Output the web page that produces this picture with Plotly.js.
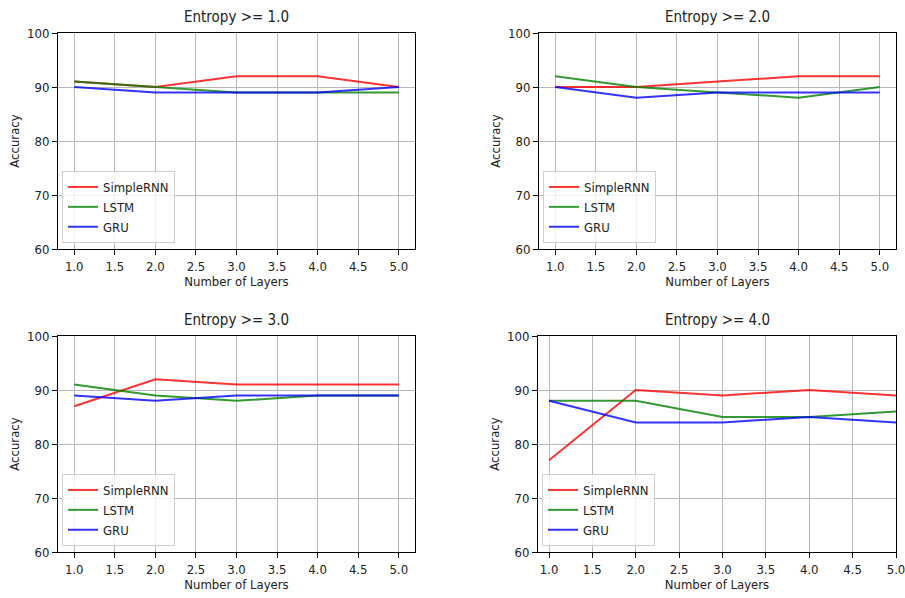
<!DOCTYPE html>
<html>
<head>
<meta charset="utf-8">
<script src="https://cdn.plot.ly/plotly-3.0.1.min.js"></script>
<style>html,body{margin:0;padding:0;background:#fff;}#chart{width:905px;height:598px;}</style>
</head>
<body>
<div id="chart"></div>
<script>
// ---- data ----
const layers = [1, 2, 3, 4, 5];
const seriesNames = ["SimpleRNN", "LSTM", "GRU"];
const panelTitles = ["Entropy >= 1.0", "Entropy >= 2.0", "Entropy >= 3.0", "Entropy >= 4.0"];
const xTickVals = [1.0, 1.5, 2.0, 2.5, 3.0, 3.5, 4.0, 4.5, 5.0];
const yTickVals = [60, 70, 80, 90, 100];

const simpleRNN1 = [91, 90, 92, 92, 90];
const lstm1      = [91, 90, 89, 89, 89];
const gru1       = [90, 89, 89, 89, 90];

const simpleRNN2 = [90, 90, 91, 92, 92];
const lstm2      = [92, 90, 89, 88, 90];
const gru2       = [90, 88, 89, 89, 89];

const simpleRNN3 = [87, 92, 91, 91, 91];
const lstm3      = [91, 89, 88, 89, 89];
const gru3       = [89, 88, 89, 89, 89];

const simpleRNN4 = [77, 90, 89, 90, 89];
const lstm4      = [88, 88, 85, 85, 86];
const gru4       = [88, 84, 84, 85, 84];

const panels = [
  [simpleRNN1, lstm1, gru1],
  [simpleRNN2, lstm2, gru2],
  [simpleRNN3, lstm3, gru3],
  [simpleRNN4, lstm4, gru4]
];

// ---- styling ----
const FONT = "'DejaVu Sans Condensed', 'DejaVu Sans', sans-serif";
const colors = ["rgba(255,0,0,0.8)", "rgba(0,128,0,0.8)", "rgba(0,0,255,0.8)"];
const W = 905, H = 598;
// pixel boxes [left, right, top, bottom]
const boxes = [
  [58, 415, 33, 249],
  [539, 896, 33, 249],
  [58, 415, 336, 552],
  [538, 896, 336, 552]
];
const xRanges = [[0.8, 5.2], [0.8, 5.2], [0.8, 5.2], [0.873, 5.0]];

const traces = [];
const layout = {
  width: W, height: H,
  margin: {l: 0, r: 0, t: 0, b: 0},
  paper_bgcolor: "#fff", plot_bgcolor: "#fff",
  font: {family: FONT, size: 13, color: "#222"},
  showlegend: true,
  annotations: []
};

panels.forEach((p, i) => {
  const n = i === 0 ? "" : String(i + 1);
  const [l, r, t, b] = boxes[i];
  p.forEach((vals, k) => {
    traces.push({
      x: layers, y: vals, type: "scatter", mode: "lines",
      name: seriesNames[k],
      line: {color: colors[k], width: 2},
      xaxis: "x" + n, yaxis: "y" + n,
      legend: "legend" + n,
      hoverinfo: "x+y+name",
      cliponaxis: false
    });
  });
  const axCommon = {
    showline: true, mirror: true, linecolor: "#000", linewidth: 1,
    ticks: "outside", ticklen: 5, tickcolor: "#000", tickwidth: 1,
    showgrid: true, gridcolor: "#b8b8b8", gridwidth: 1, zeroline: false,
    ticklabeloverflow: "allow",
    tickfont: {family: FONT, size: 13, color: "#222"}
  };
  layout["xaxis" + n] = Object.assign({}, axCommon, {
    domain: [l / W, r / W], anchor: "y" + n,
    range: xRanges[i], tickvals: xTickVals, tickformat: ".1f",
    title: {text: "Number of Layers", font: {family: FONT, size: 13, color: "#222"}, standoff: 4}
  });
  layout["yaxis" + n] = Object.assign({}, axCommon, {
    domain: [1 - b / H, 1 - t / H], anchor: "x" + n,
    range: [60, 100], tickvals: yTickVals,
    title: {text: "Accuracy", font: {family: FONT, size: 13, color: "#222"}, standoff: 4}
  });
  layout["legend" + n] = {
    x: (l + 4) / W, y: 1 - (b - 6) / H, xanchor: "left", yanchor: "bottom",
    xref: "paper", yref: "paper",
    bgcolor: "rgba(255,255,255,0.8)", bordercolor: "#d0d0d0", borderwidth: 1,
    font: {family: FONT, size: 13, color: "#222"},
    tracegroupgap: 0
  };
  layout.annotations.push({
    text: panelTitles[i], x: (l + r) / 2 / W, y: 1 - (t - 5) / H,
    xref: "paper", yref: "paper", xanchor: "center", yanchor: "bottom",
    showarrow: false, font: {family: FONT, size: 15, color: "#222"}
  });
});

Plotly.newPlot("chart", traces, layout, {displayModeBar: false, staticPlot: true});
</script>
</body>
</html>
